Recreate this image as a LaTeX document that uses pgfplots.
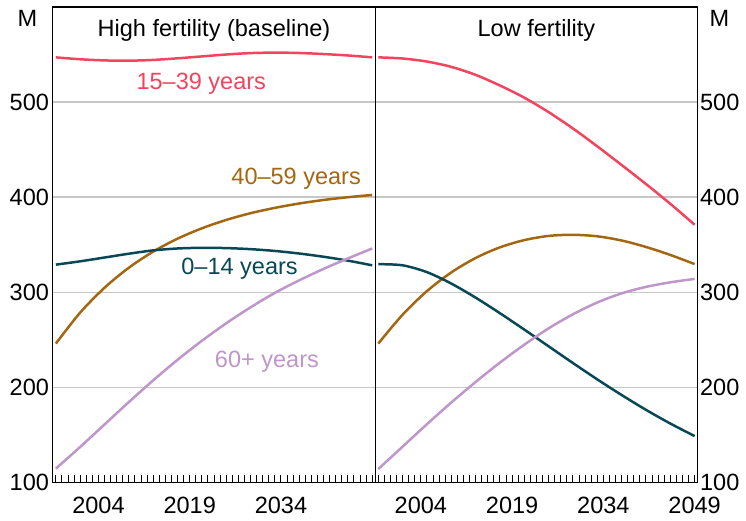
\documentclass[border=0pt]{standalone}
\usepackage{fontspec}
\setmainfont{Liberation Sans}
\usepackage{pgfplots}
\pgfplotsset{compat=1.18}

\definecolor{cred}{RGB}{242,68,94}
\definecolor{cbrown}{RGB}{163,103,18}
\definecolor{cteal}{RGB}{8,72,84}
\definecolor{cpurple}{RGB}{190,150,202}
\newcommand{\lbl}{\fontsize{11.8}{14}\selectfont}

\pgfplotsset{panel/.style={
  scale only axis, width=161.75pt, height=238.5pt,
  xmin=1996.5, xmax=2049.5, ymin=100, ymax=600,
  clip mode=individual,
  ytick={100,200,300,400,500},
  minor xtick={1997,...,2049},
  ymajorgrids, major grid style={draw=black!22, line width=0.7pt},
  axis line style={line width=0.65pt},
  tick align=inside, xtick pos=lower,
  major tick length=3.5pt, minor tick length=3.5pt,
  x tick style={black, line width=0.5pt},
  y tick style={draw=none},
  /pgf/number format/assume math mode=true,
  /pgf/number format/1000 sep={},
  tick label style={font=\lbl},
  xticklabel style={yshift=-4pt},
  every axis plot/.append style={line width=1.25pt, no marks, smooth},
}}

\begin{document}
\begin{tikzpicture}
% left panel: high fertility
\begin{axis}[panel, xtick={2004,2019,2034}, yticklabel pos=left,
  yticklabel style={xshift=1.6pt}]
\addplot[cred] coordinates {(1997,547) (2001,545) (2005,543.8) (2009,543.5) (2013,544.3) (2017,546) (2021,548) (2025,550) (2029,551.5) (2033,552) (2037,551.6) (2041,550.5) (2045,549) (2049,547)};
\addplot[cbrown] coordinates {(1997,246) (2001,278.6) (2005,304.7) (2009,325.8) (2013,342.7) (2017,356.3) (2021,367.2) (2025,376) (2029,383.1) (2033,388.7) (2037,393.3) (2041,397) (2045,399.9) (2049,402.3)};
\addplot[cteal] coordinates {(1997,329) (2001,332.5) (2005,336.5) (2009,340.5) (2013,344) (2017,346) (2021,346.7) (2025,346.4) (2029,345.3) (2033,343.4) (2037,340.7) (2041,337.3) (2045,333.2) (2049,328.3)};
\addplot[cpurple] coordinates {(1997,114.5) (2001,137.3) (2005,160.9) (2009,184.5) (2013,207.3) (2017,228.9) (2021,248.9) (2025,267.3) (2029,284.1) (2033,299.3) (2037,312.5) (2041,324.5) (2045,335.5) (2049,346)};
\node[font=\lbl, anchor=base] at (rel axis cs:0.5,1) [yshift=-14.7pt] {High fertility (baseline)};
\node[font=\lbl, anchor=base east, xshift=-4.35pt, yshift=-10pt] at (rel axis cs:0,1) {M};
\node[font=\lbl, text=cred, anchor=base] at (axis cs:2020.9,513) {15–39 years};
\node[font=\lbl, text=cbrown, anchor=base] at (axis cs:2036.5,413) {40–59 years};
\node[font=\lbl, text=cteal, anchor=base] at (axis cs:2027.2,318.4) {0–14 years};
\node[font=\lbl, text=cpurple, anchor=base] at (axis cs:2031.7,220.4) {60+ years};
\end{axis}
% right panel: low fertility
\begin{axis}[panel, at={(161.75pt,0)}, xtick={2004,2019,2034,2049}, yticklabel pos=right,
  yticklabel style={xshift=-2.3pt}]
\addplot[cred] coordinates {(1997,547) (2001,545.8) (2005,542.6) (2009,537) (2013,528.6) (2017,517.4) (2021,504.6) (2025,489.4) (2029,472.2) (2033,453.4) (2037,433.8) (2041,413.8) (2045,393) (2049,371)};
\addplot[cbrown] coordinates {(1997,246) (2001,276.4) (2005,301.2) (2009,320.8) (2013,336) (2017,347.2) (2021,354.8) (2025,359.2) (2029,360.4) (2033,358.8) (2037,354.4) (2041,347.6) (2045,339.2) (2049,329.6)};
\addplot[cteal] coordinates {(1997,329.5) (2001,328.3) (2005,321.1) (2009,309.1) (2013,294.3) (2017,277.9) (2021,260.7) (2025,243.1) (2029,225.5) (2033,208.3) (2037,191.9) (2041,176.3) (2045,161.9) (2049,148.7)};
\addplot[cpurple] coordinates {(1997,114) (2001,137.6) (2005,161.2) (2009,184) (2013,205.6) (2017,226) (2021,244.8) (2025,262) (2029,276.8) (2033,289.2) (2037,298.8) (2041,305.6) (2045,310.4) (2049,314)};
\node[font=\lbl, anchor=base] at (rel axis cs:0.5,1) [yshift=-14.7pt] {Low fertility};
\node[font=\lbl, anchor=base west, xshift=2.5pt, yshift=-9.7pt] at (rel axis cs:1,1) {M};
\end{axis}
\path (-26.5pt,-18pt) rectangle (346.5pt,242pt);
\end{tikzpicture}
\end{document}
